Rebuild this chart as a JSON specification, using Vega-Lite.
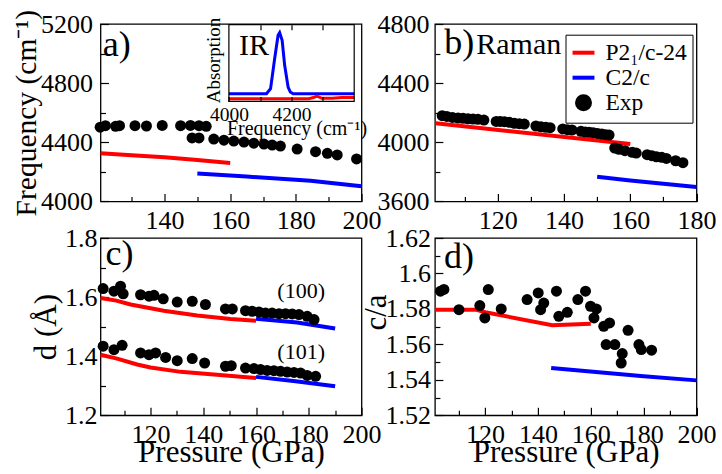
{
  "$schema": "https://vega.github.io/schema/vega-lite/v6.json",
  "padding": {"left": 10.5, "top": 8, "right": 0, "bottom": 0},
  "config": {
    "font": "Liberation Serif",
    "view": {"stroke": "black", "strokeWidth": 1.3},
    "style": {
      "guide-label": {"font": "Liberation Serif", "fontSize": 26, "fill": "black", "fontWeight": "normal"},
      "guide-title": {"font": "Liberation Serif", "fontSize": 31, "fontWeight": "normal", "fill": "black"}
    },
    "axis": {"domain": false, "grid": false, "labelFont": "Liberation Serif", "labelFontSize": 26, "labelFontWeight": "normal", "labelColor": "black", "titleFont": "Liberation Serif", "titleFontSize": 31, "titleFontWeight": "normal", "titleColor": "black", "tickColor": "black", "tickWidth": 1.2, "tickSize": -8, "labelPadding": 14, "labelFlush": false, "labelOverlap": false},
    "text": {"font": "Liberation Serif", "color": "black"}
  },
  "datasets": {
    "aLines": [
      {"series": "P2₁/c-24", "P": 120.5, "F": 4325}, {"series": "P2₁/c-24", "P": 130, "F": 4312}, {"series": "P2₁/c-24", "P": 140, "F": 4298}, {"series": "P2₁/c-24", "P": 150, "F": 4280}, {"series": "P2₁/c-24", "P": 160, "F": 4260},
      {"series": "C2/c", "P": 150, "F": 4189}, {"series": "C2/c", "P": 165, "F": 4168}, {"series": "C2/c", "P": 184.5, "F": 4140}, {"series": "C2/c", "P": 200, "F": 4102}
    ],
    "aExp": [
      {"P": 120.4, "F": 4502}, {"P": 122.0, "F": 4512}, {"P": 125.1, "F": 4508}, {"P": 126.3, "F": 4512}, {"P": 131.0, "F": 4512}, {"P": 134.5, "F": 4510}, {"P": 139.3, "F": 4514}, {"P": 144.9, "F": 4512}, {"P": 147.9, "F": 4514}, {"P": 150.5, "F": 4512}, {"P": 152.7, "F": 4508},
      {"P": 148.4, "F": 4429}, {"P": 150.5, "F": 4429}, {"P": 155.0, "F": 4422}, {"P": 158.1, "F": 4414}, {"P": 161.1, "F": 4408}, {"P": 164.2, "F": 4401}, {"P": 167.2, "F": 4394}, {"P": 170.3, "F": 4388}, {"P": 172.8, "F": 4381}, {"P": 175.3, "F": 4374}, {"P": 180.4, "F": 4354}, {"P": 186.0, "F": 4336}, {"P": 189.6, "F": 4325}, {"P": 192.6, "F": 4314}, {"P": 198.5, "F": 4287}
    ],
    "inset": [
      {"series": "C2/c", "nu": 4000, "A": 0.10}, {"series": "C2/c", "nu": 4120, "A": 0.10}, {"series": "C2/c", "nu": 4133, "A": 0.166}, {"series": "C2/c", "nu": 4146, "A": 0.557}, {"series": "C2/c", "nu": 4157, "A": 0.861}, {"series": "C2/c", "nu": 4162, "A": 0.896}, {"series": "C2/c", "nu": 4170, "A": 0.796}, {"series": "C2/c", "nu": 4178, "A": 0.470}, {"series": "C2/c", "nu": 4189, "A": 0.187}, {"series": "C2/c", "nu": 4196, "A": 0.122}, {"series": "C2/c", "nu": 4205, "A": 0.10}, {"series": "C2/c", "nu": 4400, "A": 0.10},
      {"series": "P2₁/c-24", "nu": 4000, "A": 0.035}, {"series": "P2₁/c-24", "nu": 4255, "A": 0.035}, {"series": "P2₁/c-24", "nu": 4270, "A": 0.05}, {"series": "P2₁/c-24", "nu": 4281, "A": 0.07}, {"series": "P2₁/c-24", "nu": 4297, "A": 0.04}, {"series": "P2₁/c-24", "nu": 4330, "A": 0.04}, {"series": "P2₁/c-24", "nu": 4360, "A": 0.05}, {"series": "P2₁/c-24", "nu": 4400, "A": 0.05}
    ],
    "bLines": [
      {"series": "P2₁/c-24", "P": 101.2, "F": 4128}, {"series": "P2₁/c-24", "P": 160, "F": 3988},
      {"series": "C2/c", "P": 150, "F": 3767}, {"series": "C2/c", "P": 160, "F": 3742}, {"series": "C2/c", "P": 180, "F": 3697}
    ],
    "bExp": [
      {"series": "Exp", "P": 103.2, "F": 4180}, {"series": "Exp", "P": 104.6, "F": 4175}, {"series": "Exp", "P": 106.3, "F": 4168}, {"series": "Exp", "P": 108.0, "F": 4164}, {"series": "Exp", "P": 109.5, "F": 4162}, {"series": "Exp", "P": 111.0, "F": 4159}, {"series": "Exp", "P": 112.5, "F": 4157}, {"series": "Exp", "P": 114.0, "F": 4155}, {"series": "Exp", "P": 115.8, "F": 4150},
      {"series": "Exp", "P": 119.5, "F": 4141}, {"series": "Exp", "P": 120.7, "F": 4141}, {"series": "Exp", "P": 122.0, "F": 4139}, {"series": "Exp", "P": 123.5, "F": 4135}, {"series": "Exp", "P": 125.0, "F": 4128}, {"series": "Exp", "P": 126.5, "F": 4126}, {"series": "Exp", "P": 128.0, "F": 4123},
      {"series": "Exp", "P": 131.5, "F": 4110}, {"series": "Exp", "P": 133.0, "F": 4105}, {"series": "Exp", "P": 134.5, "F": 4101}, {"series": "Exp", "P": 135.8, "F": 4099},
      {"series": "Exp", "P": 139.6, "F": 4090}, {"series": "Exp", "P": 141.0, "F": 4085}, {"series": "Exp", "P": 142.4, "F": 4083}, {"series": "Exp", "P": 145.1, "F": 4074}, {"series": "Exp", "P": 146.4, "F": 4069}, {"series": "Exp", "P": 147.6, "F": 4067}, {"series": "Exp", "P": 148.8, "F": 4065}, {"series": "Exp", "P": 150.1, "F": 4060}, {"series": "Exp", "P": 151.4, "F": 4056}, {"series": "Exp", "P": 152.6, "F": 4051}, {"series": "Exp", "P": 153.6, "F": 4049},
      {"series": "Exp", "P": 155.3, "F": 3961}, {"series": "Exp", "P": 156.6, "F": 3952}, {"series": "Exp", "P": 158.4, "F": 3943}, {"series": "Exp", "P": 160.6, "F": 3932}, {"series": "Exp", "P": 161.8, "F": 3927}, {"series": "Exp", "P": 165.1, "F": 3916}, {"series": "Exp", "P": 166.5, "F": 3909}, {"series": "Exp", "P": 167.9, "F": 3902}, {"series": "Exp", "P": 169.5, "F": 3898}, {"series": "Exp", "P": 170.9, "F": 3891}, {"series": "Exp", "P": 173.7, "F": 3875}, {"series": "Exp", "P": 175.9, "F": 3862}
    ],
    "cLines": [
      {"series": "P2₁/c-24", "plane": "100", "P": 101, "d": 1.597}, {"series": "P2₁/c-24", "plane": "100", "P": 107, "d": 1.588}, {"series": "P2₁/c-24", "plane": "100", "P": 112.4, "d": 1.575}, {"series": "P2₁/c-24", "plane": "100", "P": 120, "d": 1.562}, {"series": "P2₁/c-24", "plane": "100", "P": 125, "d": 1.554}, {"series": "P2₁/c-24", "plane": "100", "P": 137.7, "d": 1.538}, {"series": "P2₁/c-24", "plane": "100", "P": 150.3, "d": 1.526}, {"series": "P2₁/c-24", "plane": "100", "P": 160, "d": 1.520},
      {"series": "C2/c", "plane": "100", "P": 160, "d": 1.527}, {"series": "C2/c", "plane": "100", "P": 175.6, "d": 1.514}, {"series": "C2/c", "plane": "100", "P": 190, "d": 1.494},
      {"series": "P2₁/c-24", "plane": "101", "P": 101, "d": 1.405}, {"series": "P2₁/c-24", "plane": "101", "P": 107.3, "d": 1.392}, {"series": "P2₁/c-24", "plane": "101", "P": 114.9, "d": 1.372}, {"series": "P2₁/c-24", "plane": "101", "P": 120, "d": 1.362}, {"series": "P2₁/c-24", "plane": "101", "P": 131.4, "d": 1.347}, {"series": "P2₁/c-24", "plane": "101", "P": 144, "d": 1.338}, {"series": "P2₁/c-24", "plane": "101", "P": 160, "d": 1.326},
      {"series": "C2/c", "plane": "101", "P": 160, "d": 1.330}, {"series": "C2/c", "plane": "101", "P": 175, "d": 1.315}, {"series": "C2/c", "plane": "101", "P": 190, "d": 1.298}
    ],
    "cExp": [
      {"P": 102.0, "d": 1.629}, {"P": 106.1, "d": 1.620}, {"P": 108.6, "d": 1.637}, {"P": 109.6, "d": 1.611}, {"P": 116.2, "d": 1.608}, {"P": 119.4, "d": 1.603}, {"P": 121.3, "d": 1.606}, {"P": 124.8, "d": 1.594}, {"P": 130.1, "d": 1.583}, {"P": 135.8, "d": 1.586}, {"P": 140.8, "d": 1.575}, {"P": 148.4, "d": 1.560}, {"P": 151.0, "d": 1.560}, {"P": 156.0, "d": 1.554}, {"P": 158.5, "d": 1.552}, {"P": 161.1, "d": 1.550}, {"P": 163.6, "d": 1.546}, {"P": 166.1, "d": 1.546}, {"P": 168.7, "d": 1.544}, {"P": 171.2, "d": 1.544}, {"P": 173.7, "d": 1.543}, {"P": 176.3, "d": 1.541}, {"P": 179.4, "d": 1.535}, {"P": 182.0, "d": 1.524},
      {"P": 102.0, "d": 1.434}, {"P": 106.1, "d": 1.422}, {"P": 109.2, "d": 1.437}, {"P": 116.2, "d": 1.411}, {"P": 119.4, "d": 1.405}, {"P": 121.9, "d": 1.411}, {"P": 125.7, "d": 1.396}, {"P": 130.1, "d": 1.385}, {"P": 135.8, "d": 1.392}, {"P": 140.5, "d": 1.377}, {"P": 148.4, "d": 1.366}, {"P": 150.6, "d": 1.368}, {"P": 156.0, "d": 1.360}, {"P": 159.2, "d": 1.358}, {"P": 161.7, "d": 1.355}, {"P": 164.2, "d": 1.352}, {"P": 166.8, "d": 1.351}, {"P": 169.3, "d": 1.349}, {"P": 171.8, "d": 1.3465}, {"P": 174.4, "d": 1.345}, {"P": 176.9, "d": 1.343}, {"P": 179.4, "d": 1.335}, {"P": 182.6, "d": 1.332}
    ],
    "dLines": [
      {"series": "P2₁/c-24", "P": 101, "r": 1.5796}, {"series": "P2₁/c-24", "P": 116.4, "r": 1.5796}, {"series": "P2₁/c-24", "P": 120.1, "r": 1.5781}, {"series": "P2₁/c-24", "P": 145.4, "r": 1.5708}, {"series": "P2₁/c-24", "P": 160, "r": 1.5717},
      {"series": "C2/c", "P": 145, "r": 1.5467}, {"series": "C2/c", "P": 180, "r": 1.5420}, {"series": "C2/c", "P": 200, "r": 1.5397}
    ],
    "dExp": [
      {"P": 103.1, "r": 1.590}, {"P": 104.4, "r": 1.591}, {"P": 110.1, "r": 1.5796}, {"P": 118.0, "r": 1.5819}, {"P": 119.9, "r": 1.5749}, {"P": 121.2, "r": 1.5909}, {"P": 126.1, "r": 1.580}, {"P": 135.9, "r": 1.5853}, {"P": 140.1, "r": 1.589}, {"P": 142.2, "r": 1.5833}, {"P": 141.0, "r": 1.5796}, {"P": 147.0, "r": 1.590}, {"P": 147.9, "r": 1.5758}, {"P": 151.1, "r": 1.5781}, {"P": 155.1, "r": 1.5853}, {"P": 158.0, "r": 1.590}, {"P": 159.9, "r": 1.5815}, {"P": 162.1, "r": 1.580}, {"P": 161.2, "r": 1.5749}, {"P": 164.9, "r": 1.5702}, {"P": 167.1, "r": 1.5721}, {"P": 165.8, "r": 1.5599}, {"P": 169.1, "r": 1.5599}, {"P": 171.9, "r": 1.5548}, {"P": 171.5, "r": 1.5495}, {"P": 174.1, "r": 1.5679}, {"P": 178.2, "r": 1.5599}, {"P": 179.1, "r": 1.5571}, {"P": 183.0, "r": 1.5567}
    ]
  },
  "columns": 2,
  "spacing": {"row": 36, "column": 73.4},
  "bounds": "flush",
  "resolve": {"scale": {"color": "independent"}, "legend": {"color": "independent"}},
  "concat": [
    {
      "width": 261, "height": 177.4,
      "layer": [
        {
          "layer": [
            {
              "data": {"name": "aLines"},
              "mark": {"type": "line", "strokeWidth": 4},
              "encoding": {
                "x": {"field": "P", "type": "quantitative", "scale": {"domain": [120.5, 200], "nice": false, "zero": false}, "axis": {"orient": "bottom", "values": [130, 150, 170, 190], "labels": false, "tickSize": -5, "title": null}},
                "y": {"field": "F", "type": "quantitative", "scale": {"domain": [4000, 5200], "nice": false, "zero": false}, "axis": {"orient": "left", "values": [4200, 4600, 5000], "labels": false, "tickSize": -5, "title": null}},
                "color": {"field": "series", "type": "nominal", "scale": {"domain": ["P2₁/c-24", "C2/c"], "range": ["#ff0000", "#0000ff"]}, "legend": null}
              }
            },
            {
              "data": {"name": "aExp"},
              "mark": {"type": "circle", "size": 121, "color": "black", "opacity": 1},
              "encoding": {
                "x": {"field": "P", "type": "quantitative", "axis": {"orient": "bottom", "values": [140, 160, 180, 200], "format": "d", "labelFont": "Liberation Serif", "title": null}},
                "y": {"field": "F", "type": "quantitative", "axis": {"orient": "left", "values": [4000, 4400, 4800, 5200], "format": "d", "labelFont": "Liberation Serif", "labelPadding": 16, "title": "Frequency (cm⁻¹)", "titleFont": "Liberation Serif", "titleFontSize": 29.5, "titleX": -65, "titleBaseline": "alphabetic"}}
              }
            },
            {
              "data": {"values": [{}]},
              "mark": {"type": "text", "text": "a)", "fontSize": 36, "align": "left", "baseline": "alphabetic"},
              "encoding": {
                "x": {"datum": 121.2, "type": "quantitative", "axis": null},
                "y": {"datum": 4985, "type": "quantitative", "axis": null}
              }
            }
          ],
          "resolve": {"axis": {"x": "independent", "y": "independent"}}
        },
        {
          "layer": [
            {
              "data": {"name": "inset"},
              "mark": {"type": "line", "strokeWidth": 3},
              "encoding": {
                "x": {"field": "nu", "type": "quantitative", "scale": {"domain": [4000, 4400], "range": [128.4, 253.7], "nice": false, "zero": false}, "axis": {"orient": "bottom", "offset": -100, "values": [4000, 4100, 4200, 4300], "labelExpr": "datum.value == 4000 || datum.value == 4200 ? datum.label : ''", "format": "d", "labelFont": "Liberation Serif", "labelFontSize": 19.5, "tickSize": -5, "labelPadding": 9, "title": "Frequency (cm⁻¹)", "titleFont": "Liberation Serif", "titleFontSize": 20, "titleBaseline": "alphabetic", "titleY": 33.3, "titleX": 196, "zindex": 1}},
                "y": {"field": "A", "type": "quantitative", "scale": {"domain": [0, 1], "range": [77.4, 0.7], "nice": false, "zero": false}, "axis": {"orient": "left", "offset": -128.4, "labels": false, "ticks": false, "title": "Absorption", "titleFont": "Liberation Serif", "titleFontSize": 19, "titleBaseline": "alphabetic", "titleX": -9.7, "titleY": 36}},
                "color": {"field": "series", "type": "nominal", "scale": {"domain": ["P2₁/c-24", "C2/c"], "range": ["#ff0000", "#0000ff"]}, "legend": null}
              }
            },
            {
              "data": {"values": [{}]},
              "mark": {"type": "rect", "filled": false, "color": "black", "strokeWidth": 1.2},
              "encoding": {
                "x": {"datum": 4000, "type": "quantitative", "axis": {"orient": "top", "offset": -0.7, "values": [4100, 4200, 4300], "labels": false, "tickSize": -5, "title": null}},
                "x2": {"datum": 4400},
                "y": {"datum": 0, "type": "quantitative", "axis": null},
                "y2": {"datum": 1}
              }
            },
            {
              "data": {"values": [{}]},
              "mark": {"type": "text", "text": "IR", "fontSize": 30, "align": "left", "baseline": "alphabetic"},
              "encoding": {
                "x": {"datum": 4032, "type": "quantitative", "axis": null},
                "y": {"datum": 0.6, "type": "quantitative", "axis": null}
              }
            }
          ],
          "resolve": {"axis": {"x": "independent", "y": "independent"}}
        }
      ],
      "resolve": {"scale": {"x": "independent", "y": "independent"}, "axis": {"x": "independent", "y": "independent"}}
    },
    {
      "width": 261.6, "height": 177.4,
      "layer": [
        {
          "data": {"name": "bLines"},
          "mark": {"type": "line", "strokeWidth": 4},
          "encoding": {
            "x": {"field": "P", "type": "quantitative", "scale": {"domain": [101, 180], "nice": false, "zero": false}, "axis": {"orient": "bottom", "values": [110, 130, 150, 170], "labels": false, "tickSize": -5, "title": null}},
            "y": {"field": "F", "type": "quantitative", "scale": {"domain": [3600, 4800], "nice": false, "zero": false}, "axis": {"orient": "left", "values": [3800, 4200, 4600], "labels": false, "tickSize": -5, "title": null}},
            "color": {"field": "series", "type": "nominal", "scale": {"domain": ["P2₁/c-24", "C2/c", "Exp"], "range": ["#ff0000", "#0000ff", "#000000"]},
              "legend": {"orient": "none", "legendX": 130.6, "legendY": 10.7, "title": null, "strokeColor": "black", "fillColor": "white", "padding": 5, "labelFont": "Liberation Serif", "labelFontSize": 23.5, "labelColor": "black", "labelOffset": 9, "rowPadding": -2, "symbolType": "stroke", "symbolSize": 480, "symbolStrokeWidth": 4,
                "encode": {"symbols": {"update": {"shape": {"signal": "datum.value === 'Exp' ? 'circle' : 'stroke'"}, "size": {"signal": "datum.value === 'Exp' ? 169 : 480"}, "fill": {"signal": "datum.value === 'Exp' ? '#000000' : 'transparent'"}, "stroke": {"signal": "datum.value === 'Exp' ? 'transparent' : (datum.value === 'C2/c' ? '#0000ff' : '#ff0000')"}, "strokeWidth": {"value": 4}, "opacity": {"value": 1}}}}}}
          }
        },
        {
          "data": {"name": "bExp"},
          "mark": {"type": "circle", "size": 121, "opacity": 1},
          "encoding": {
            "x": {"field": "P", "type": "quantitative", "axis": {"orient": "bottom", "values": [120, 140, 160, 180], "format": "d", "labelFont": "Liberation Serif", "title": null}},
            "y": {"field": "F", "type": "quantitative", "axis": {"orient": "left", "values": [3600, 4000, 4400, 4800], "format": "d", "labelFont": "Liberation Serif", "title": null}},
            "color": {"field": "series", "type": "nominal",
              "legend": {"orient": "none", "legendX": 130.6, "legendY": 10.7, "title": null, "strokeColor": "black", "fillColor": "white", "padding": 5, "labelFont": "Liberation Serif", "labelFontSize": 23.5, "labelColor": "black", "labelOffset": 9, "rowPadding": -2, "symbolType": "stroke", "symbolSize": 480, "symbolStrokeWidth": 4,
                "encode": {"symbols": {"update": {"shape": {"signal": "datum.value === 'Exp' ? 'circle' : 'stroke'"}, "size": {"signal": "datum.value === 'Exp' ? 169 : 480"}, "fill": {"signal": "datum.value === 'Exp' ? '#000000' : 'transparent'"}, "stroke": {"signal": "datum.value === 'Exp' ? 'transparent' : (datum.value === 'C2/c' ? '#0000ff' : '#ff0000')"}, "strokeWidth": {"value": 4}, "opacity": {"value": 1}}}}}}
          }
        },
        {
          "data": {"values": [{}]},
          "mark": {"type": "text", "text": "b)", "fontSize": 36, "align": "left", "baseline": "alphabetic"},
          "encoding": {"x": {"datum": 103.8, "type": "quantitative", "axis": null}, "y": {"datum": 4597, "type": "quantitative", "axis": null}}
        },
        {
          "data": {"values": [{}]},
          "mark": {"type": "text", "text": "Raman", "fontSize": 30, "align": "left", "baseline": "alphabetic"},
          "encoding": {"x": {"datum": 113.5, "type": "quantitative", "axis": null}, "y": {"datum": 4597, "type": "quantitative", "axis": null}}
        }
      ],
      "resolve": {"axis": {"x": "independent", "y": "independent"}}
    },
    {
      "width": 261, "height": 177.3,
      "layer": [
        {
          "data": {"name": "cLines"},
          "mark": {"type": "line", "strokeWidth": 4},
          "encoding": {
            "x": {"field": "P", "type": "quantitative", "scale": {"domain": [101, 200], "nice": false, "zero": false}, "axis": {"orient": "bottom", "values": [110, 130, 150, 170, 190], "labels": false, "tickSize": -5, "title": null}},
            "y": {"field": "d", "type": "quantitative", "scale": {"domain": [1.2, 1.8], "nice": false, "zero": false}, "axis": {"orient": "left", "values": [1.3, 1.5, 1.7], "labels": false, "tickSize": -5, "title": null}},
            "color": {"field": "series", "type": "nominal", "scale": {"domain": ["P2₁/c-24", "C2/c"], "range": ["#ff0000", "#0000ff"]}, "legend": null},
            "detail": {"field": "plane", "type": "nominal"}
          }
        },
        {
          "data": {"name": "cExp"},
          "mark": {"type": "circle", "size": 121, "color": "black", "opacity": 1},
          "encoding": {
            "x": {"field": "P", "type": "quantitative", "axis": {"orient": "bottom", "values": [120, 140, 160, 180, 200], "format": "d", "labelFont": "Liberation Serif", "title": "Pressure (GPa)", "titleFont": "Liberation Serif", "titleBaseline": "alphabetic", "titleY": 46.5}},
            "y": {"field": "d", "type": "quantitative", "axis": {"orient": "left", "values": [1.2, 1.4, 1.6, 1.8], "format": ".1f", "labelFont": "Liberation Serif", "labelPadding": 11.5, "title": "d (Å)", "titleFont": "Liberation Serif", "titleX": -45.3, "titleBaseline": "alphabetic"}}
          }
        },
        {
          "data": {"values": [{}]},
          "mark": {"type": "text", "text": "c)", "fontSize": 36, "align": "left", "baseline": "alphabetic"},
          "encoding": {"x": {"datum": 102.9, "type": "quantitative", "axis": null}, "y": {"datum": 1.71, "type": "quantitative", "axis": null}}
        },
        {
          "data": {"values": [{}]},
          "mark": {"type": "text", "text": "(100)", "fontSize": 22, "align": "center", "baseline": "alphabetic"},
          "encoding": {"x": {"datum": 177.1, "type": "quantitative", "axis": null}, "y": {"datum": 1.596, "type": "quantitative", "axis": null}}
        },
        {
          "data": {"values": [{}]},
          "mark": {"type": "text", "text": "(101)", "fontSize": 22, "align": "center", "baseline": "alphabetic"},
          "encoding": {"x": {"datum": 177.1, "type": "quantitative", "axis": null}, "y": {"datum": 1.392, "type": "quantitative", "axis": null}}
        }
      ],
      "resolve": {"axis": {"x": "independent", "y": "independent"}}
    },
    {
      "width": 261.6, "height": 177.3,
      "layer": [
        {
          "data": {"name": "dLines"},
          "mark": {"type": "line", "strokeWidth": 4},
          "encoding": {
            "x": {"field": "P", "type": "quantitative", "scale": {"domain": [101, 200], "nice": false, "zero": false}, "axis": {"orient": "bottom", "values": [110, 130, 150, 170, 190], "labels": false, "tickSize": -5, "title": null}},
            "y": {"field": "r", "type": "quantitative", "scale": {"domain": [1.52, 1.62], "nice": false, "zero": false}, "axis": {"orient": "left", "values": [1.53, 1.55, 1.57, 1.59, 1.61], "labels": false, "tickSize": -5, "title": null}},
            "color": {"field": "series", "type": "nominal", "scale": {"domain": ["P2₁/c-24", "C2/c"], "range": ["#ff0000", "#0000ff"]}, "legend": null}
          }
        },
        {
          "data": {"name": "dExp"},
          "mark": {"type": "circle", "size": 121, "color": "black", "opacity": 1},
          "encoding": {
            "x": {"field": "P", "type": "quantitative", "axis": {"orient": "bottom", "values": [120, 140, 160, 180, 200], "format": "d", "labelFont": "Liberation Serif", "title": "Pressure (GPa)", "titleFont": "Liberation Serif", "titleBaseline": "alphabetic", "titleY": 46.5}},
            "y": {"field": "r", "type": "quantitative", "axis": {"orient": "left", "values": [1.52, 1.54, 1.56, 1.58, 1.6, 1.62], "format": ".2~f", "labelFont": "Liberation Serif", "labelPadding": 12.5, "title": "c/a", "titleFont": "Liberation Serif", "titleX": -49.7, "titleY": 74, "titleBaseline": "alphabetic"}}
          }
        },
        {
          "data": {"values": [{}]},
          "mark": {"type": "text", "text": "d)", "fontSize": 36, "align": "left", "baseline": "alphabetic"},
          "encoding": {"x": {"datum": 104.4, "type": "quantitative", "axis": null}, "y": {"datum": 1.603, "type": "quantitative", "axis": null}}
        }
      ],
      "resolve": {"axis": {"x": "independent", "y": "independent"}}
    }
  ]
}
